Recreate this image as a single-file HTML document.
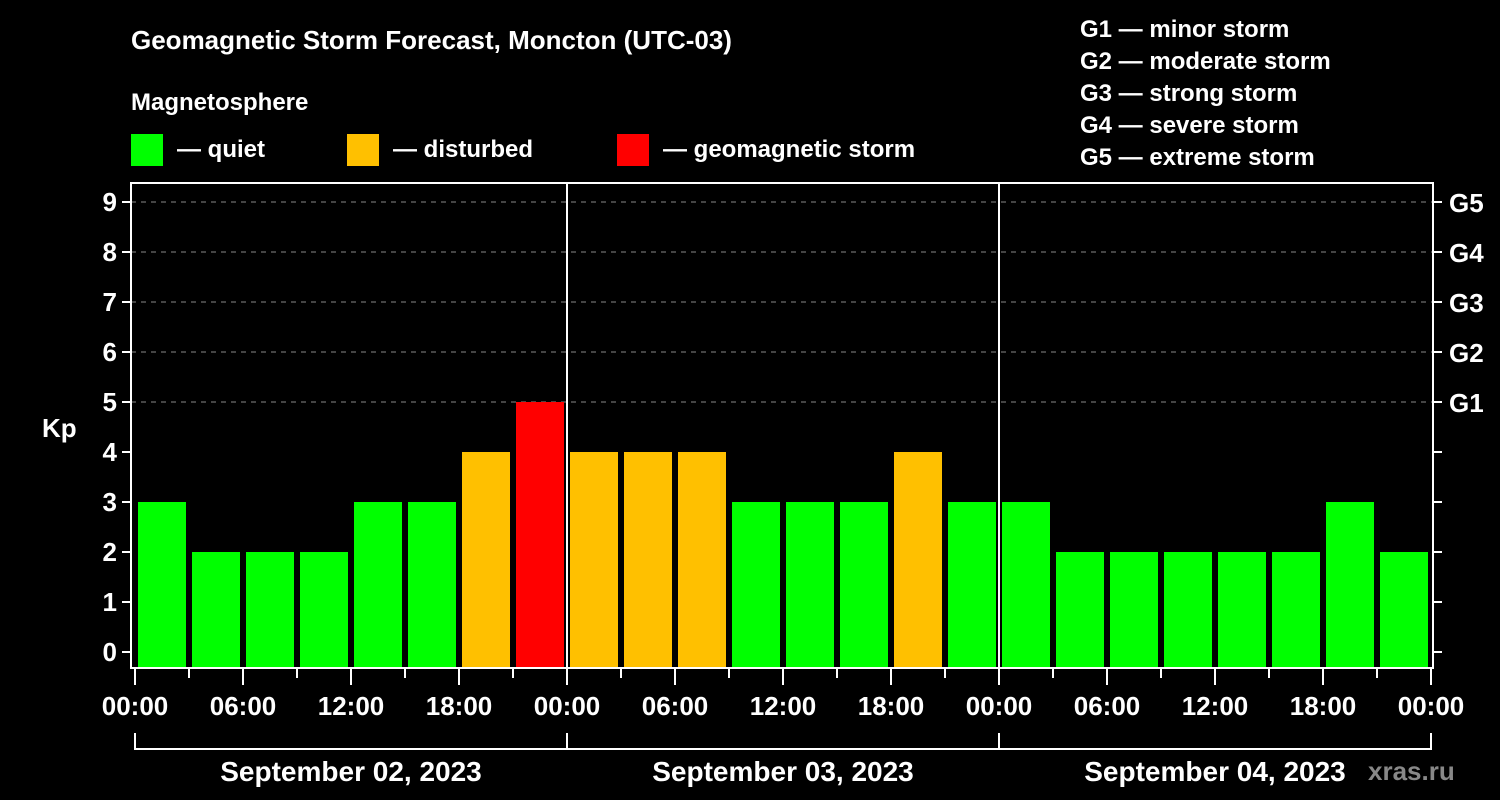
<!DOCTYPE html>
<html><head><meta charset="utf-8"><style>
html,body{margin:0;padding:0;background:#000;}
svg{display:block;font-family:"Liberation Sans",sans-serif;font-weight:bold;}
</style></head><body>
<svg id="chart" width="1500" height="800" viewBox="0 0 1500 800">
<rect width="1500" height="800" fill="#000"/>
<text x="131" y="49" fill="#fff" font-size="26">Geomagnetic Storm Forecast, Moncton (UTC-03)</text>
<text x="131" y="110" fill="#fff" font-size="24">Magnetosphere</text>
<g><rect x="131" y="134" width="32" height="32" fill="#00ff00"/><text x="177" y="157" fill="#fff" font-size="24">— quiet</text></g>
<g><rect x="347" y="134" width="32" height="32" fill="#ffc000"/><text x="393" y="157" fill="#fff" font-size="24">— disturbed</text></g>
<g><rect x="617" y="134" width="32" height="32" fill="#ff0000"/><text x="663" y="157" fill="#fff" font-size="24">— geomagnetic storm</text></g>
<g fill="#fff" font-size="24">
<text x="1080" y="37">G1 — minor storm</text>
<text x="1080" y="69">G2 — moderate storm</text>
<text x="1080" y="101">G3 — strong storm</text>
<text x="1080" y="133">G4 — severe storm</text>
<text x="1080" y="165">G5 — extreme storm</text>
</g>
<text x="42" y="437" fill="#fff" font-size="26">Kp</text>
<g id="grid"></g><g id="bars"></g><g id="axes"></g>
<text x="1368" y="780" fill="#888" font-size="26">xras.ru</text>
</svg>
<script>
const kpValues = [3,2,2,2,3,3,4,5, 4,4,4,3,3,3,4,3, 3,2,2,2,2,2,3,2];
const dayLabels = ["September 02, 2023","September 03, 2023","September 04, 2023"];
const hourLabels = ["00:00","06:00","12:00","18:00"];
const gLabels = ["G1","G2","G3","G4","G5"];
const kpTicks = [0,1,2,3,4,5,6,7,8,9];

const NS="http://www.w3.org/2000/svg";
const x0=135, slot=54, L=131, R=1433, T=183, B=668;
const y = v => 652 - v*50;
const xs = i => x0 + i*slot;
function mk(tag, attrs, parent){const e=document.createElementNS(NS,tag);for(const k in attrs)e.setAttribute(k,attrs[k]);parent.appendChild(e);return e;}
const grid=document.getElementById('grid'), bars=document.getElementById('bars'), axes=document.getElementById('axes');
const color = v => v>=5?'#ff0000':(v==4?'#ffc000':'#00ff00');

kpTicks.forEach(v=>{
  if(v>=5){const g=mk('line',{x1:L,x2:R,y1:y(v),y2:y(v),stroke:'#888','stroke-dasharray':'5,5','stroke-width':1},grid);
    
    }
  const t=mk('line',{x1:L-9,x2:L,y1:y(v),y2:y(v),stroke:'#fff','stroke-width':2},axes);
  
  
  const tr=mk('line',{x1:R,x2:R+9,y1:y(v),y2:y(v),stroke:'#fff','stroke-width':2},axes);
  
  
  const lb=mk('text',{x:L-14,y:y(v)+9,fill:'#fff','font-size':26,'text-anchor':'end'},axes);
  lb.textContent=v;
  
  
});
gLabels.forEach((g,i)=>{
  const lb=mk('text',{x:1449,y:y(5+i)+10,fill:'#fff','font-size':26},axes);
  lb.textContent=g;
  
  
});
kpValues.forEach((v,i)=>{
  const r=mk('rect',{x:xs(i)+3,y:y(v),width:48,height:B-y(v),fill:color(v)},bars);
  
  
});
const frame=mk('rect',{x:L,y:T,width:R-L,height:B-T,fill:'none',stroke:'#fff','stroke-width':2},axes);


for(let d=1;d<dayLabels.length;d++){
  const s=mk('line',{x1:xs(d*8),x2:xs(d*8),y1:T,y2:B,stroke:'#fff','stroke-width':2},axes);
  
  
}
for(let i=0;i<=kpValues.length;i++){
  const major=i%2==0;
  const t=mk('line',{x1:xs(i),x2:xs(i),y1:B,y2:major?685:678,stroke:'#fff','stroke-width':2},axes);
  
  
  if(major){
    const lb=mk('text',{x:xs(i),y:715,fill:'#fff','font-size':26,'text-anchor':'middle'},axes);
    lb.textContent=hourLabels[(i/2)%4];
    
    
  }
}
const br=mk('path',{d:`M${xs(0)},733 V749 H${xs(24)} V733 M${xs(8)},733 V749 M${xs(16)},733 V749`,stroke:'#fff','stroke-width':2,fill:'none'},axes);


dayLabels.forEach((d,i)=>{
  const lb=mk('text',{x:(xs(i*8)+xs(i*8+8))/2,y:781,fill:'#fff','font-size':28,'text-anchor':'middle'},axes);
  lb.textContent=d;
  
  
});
</script>
</body></html>
